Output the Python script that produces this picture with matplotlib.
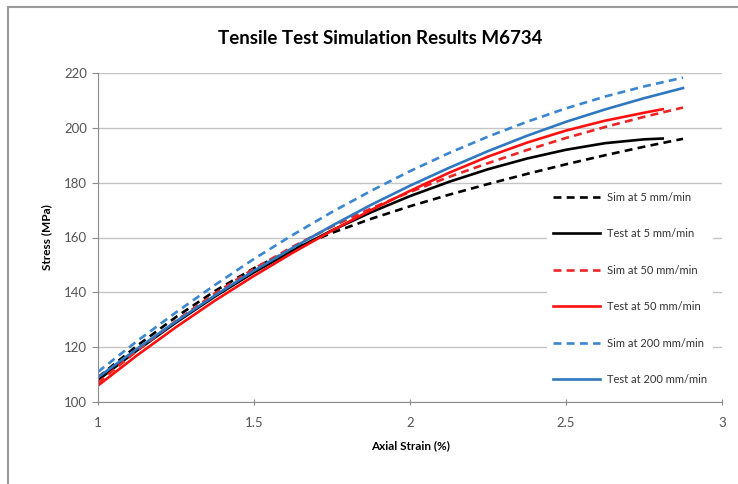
import matplotlib.pyplot as plt
from matplotlib.patches import Rectangle

# strain (%) and stress (MPa)
strain = [1.0, 1.125, 1.25, 1.375, 1.5, 1.625, 1.75, 1.875, 2.0,
          2.125, 2.25, 2.375, 2.5, 2.625, 2.75, 2.875]
strain_test = [1.0, 1.125, 1.25, 1.375, 1.5, 1.625, 1.75, 1.875, 2.0,
               2.125, 2.25, 2.375, 2.5, 2.625, 2.75, 2.81]

sim5_y = [109, 120.5, 131, 140.5, 148.8, 155.8, 161.7, 166.8, 171.4,
          175.6, 179.5, 183.2, 186.7, 190, 193.1, 196]
test5_y = [108, 118.8, 129, 138.5, 147.3, 155.3, 162.6, 169.2, 175.1,
           180.3, 184.9, 188.8, 192, 194.4, 195.8, 196.1]
sim50_y = [107, 118.7, 129.6, 139.6, 148.6, 156.7, 164, 170.6, 176.6,
           182.1, 187.1, 191.9, 196.3, 200.3, 204, 207.4]
test50_y = [106, 117, 127.3, 137, 146, 154.5, 162.5, 170, 177,
            183.6, 189.5, 194.6, 199, 202.6, 205.5, 206.8]
sim200_y = [111, 122.2, 132.7, 142.7, 152.2, 161, 169.3, 177, 184.2,
            190.8, 196.8, 202.2, 207.1, 211.4, 215.1, 218.3]
test200_y = [109, 119.4, 129.4, 138.9, 147.9, 156.3, 164.3, 171.9, 178.9,
             185.4, 191.5, 197.1, 202.2, 206.7, 210.8, 214.5]

labels = ['Sim at 5 mm/min', 'Test at 5 mm/min', 'Sim at 50 mm/min',
          'Test at 50 mm/min', 'Sim at 200 mm/min', 'Test at 200 mm/min']

plt.rcParams['font.family'] = ['Lato', 'DejaVu Sans']

fig = plt.figure(figsize=(7.38, 4.84), dpi=100)
ax = fig.add_axes([98 / 738, 1 - 402 / 484, 624 / 738, 329 / 484])

# chart area border (Excel style)
fig.patches.append(Rectangle((8 / 738, -0.05), 1.0, 1 - 7 / 484 + 0.05,
                             transform=fig.transFigure, fill=False,
                             edgecolor='#9a9a9a', lw=1.5))

lw = 1.9
dash = (0, (3, 2))
ax.plot(strain, sim5_y, color='black', lw=lw, ls=dash, label=labels[0])
ax.plot(strain_test, test5_y, color='black', lw=lw, label=labels[1])
ax.plot(strain, sim50_y, color='#ee2424', lw=lw, ls=dash, label=labels[2])
ax.plot(strain_test, test50_y, color='#ff1010', lw=lw, label=labels[3])
ax.plot(strain, sim200_y, color='#3a86d0', lw=lw, ls=dash, label=labels[4])
ax.plot(strain, test200_y, color='#2f77bf', lw=lw, label=labels[5])

ax.set_xlim(1, 3)
ax.set_ylim(100, 220)
ax.set_xticks([1, 1.5, 2, 2.5, 3])
ax.set_xticklabels(['1', '1.5', '2', '2.5', '3'])
ax.set_yticks(range(100, 221, 20))
ax.grid(axis='y', color='#c4c4c4', lw=1)
ax.set_axisbelow(True)
for s in ['top', 'right']:
    ax.spines[s].set_visible(False)
for s in ['left', 'bottom']:
    ax.spines[s].set_color('#8c8c8c')
ax.tick_params(axis='y', direction='out', length=4, color='#8c8c8c',
               labelsize=9.5, labelcolor='#555555', pad=4)
ax.tick_params(axis='x', direction='inout', length=5, color='#8c8c8c',
               labelsize=9.5, labelcolor='#555555', pad=8)

ax.set_xlabel('Axial Strain (%)', fontsize=8.5, fontweight='bold', labelpad=8)
ax.set_ylabel('Stress (MPa)', fontsize=8.5, fontweight='bold', labelpad=8)
fig.text(380 / 738, 1 - 38 / 484, 'Tensile Test Simulation Results M6734',
         ha='center', va='center', fontsize=13.5, fontweight='bold')

leg = ax.legend(loc='upper left', bbox_to_anchor=(547 / 738, 1 - 186 / 484),
                bbox_transform=fig.transFigure, frameon=True, fontsize=8,
                labelspacing=2.3, handlelength=4.3, handletextpad=0.6,
                borderpad=0.5, borderaxespad=0, facecolor='white',
                edgecolor='none', framealpha=1, fancybox=False)
for t in leg.get_texts():
    t.set_color('#333333')

fig.savefig('out.png', dpi=100)
